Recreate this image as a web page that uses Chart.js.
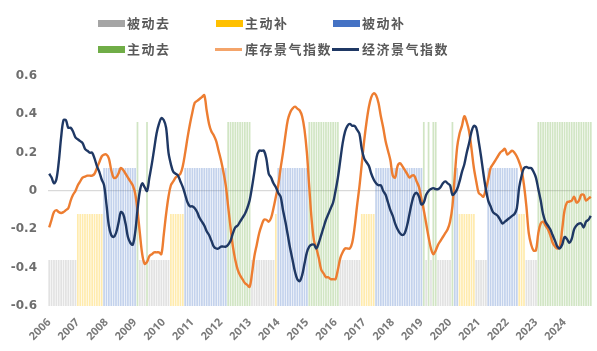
<!DOCTYPE html>
<html>
<head>
<meta charset="utf-8">
<script src="https://cdn.jsdelivr.net/npm/chart.js@4.4.1/dist/chart.umd.min.js"></script>
<style>
  html, body { margin: 0; padding: 0; background: #fff; }
  #wrap { position: relative; width: 597px; height: 351px; overflow: hidden; }
  canvas { position: absolute; left: 0; top: 0; }
  .lg-sw { position: absolute; }
  .lg-tx { position: absolute; font-family: "Noto Sans CJK SC", "Noto Sans", sans-serif; font-size: 13px; font-weight: 700; color: #595959; letter-spacing: 1.5px; line-height: 16px; white-space: nowrap; }
</style>
</head>
<body>
<div id="wrap">
  <canvas id="c" width="597" height="351"></canvas>
  <div id="legend"></div>
</div>
<script>
// ---------------- DATA ----------------
const years = ['2006','2007','2008','2009','2010','2011','2012','2013','2014','2015',
               '2016','2017','2018','2019','2020','2021','2022','2023','2024'];

// 库存景气指数 (monthly)
const inventoryIndex = [
  -0.19,-0.15,-0.11,-0.10,-0.11,-0.115,-0.11,-0.10,-0.09,-0.05,-0.02,0.00,
  0.03,0.05,0.07,0.075,0.08,0.08,0.08,0.09,0.12,0.15,0.18,0.19,
  0.19,0.17,0.11,0.07,0.07,0.09,0.12,0.11,0.09,0.07,0.05,0.03,
  -0.01,-0.10,-0.22,-0.33,-0.38,-0.37,-0.34,-0.33,-0.32,-0.32,-0.32,-0.33,
  -0.23,-0.12,-0.03,0.03,0.05,0.07,0.08,0.09,0.13,0.20,0.28,0.35,
  0.41,0.46,0.47,0.48,0.49,0.50,0.42,0.35,0.31,0.29,0.26,0.21,
  0.16,0.10,0.03,-0.08,-0.19,-0.29,-0.36,-0.41,-0.44,-0.46,-0.48,-0.49,
  -0.50,-0.43,-0.34,-0.28,-0.22,-0.18,-0.15,-0.15,-0.16,-0.14,-0.09,-0.03,
  0.03,0.12,0.20,0.29,0.37,0.41,0.43,0.44,0.43,0.42,0.39,0.32,
  0.20,0.02,-0.15,-0.26,-0.30,-0.35,-0.41,-0.43,-0.45,-0.45,-0.46,-0.46,
  -0.46,-0.41,-0.35,-0.32,-0.30,-0.30,-0.30,-0.27,-0.19,-0.08,0.02,0.14,
  0.26,0.36,0.44,0.49,0.51,0.50,0.46,0.39,0.33,0.26,0.21,0.16,
  0.08,0.07,0.13,0.145,0.13,0.11,0.09,0.07,0.08,0.08,0.05,0.02,
  -0.04,-0.10,-0.17,-0.24,-0.30,-0.33,-0.31,-0.28,-0.26,-0.24,-0.22,-0.20,
  -0.16,-0.08,0.08,0.23,0.30,0.34,0.39,0.36,0.31,0.22,0.12,0.05,
  -0.01,-0.02,-0.03,0.01,0.06,0.12,0.14,0.16,0.18,0.20,0.21,0.22,
  0.19,0.20,0.21,0.20,0.18,0.15,0.11,0.03,-0.08,-0.22,-0.28,-0.31,
  -0.31,-0.22,-0.17,-0.16,-0.18,-0.20,-0.23,-0.27,-0.29,-0.30,-0.29,-0.20,
  -0.10,-0.06,-0.055,-0.05,-0.03,-0.06,-0.05,-0.02,-0.02,-0.05,-0.04,-0.03
];

// 经济景气指数 (monthly)
const economyIndex = [
  0.09,0.07,0.04,0.06,0.15,0.28,0.37,0.37,0.33,0.33,0.31,0.28,
  0.27,0.26,0.25,0.22,0.21,0.20,0.20,0.17,0.13,0.10,0.06,0.03,
  -0.07,-0.18,-0.23,-0.24,-0.22,-0.17,-0.11,-0.12,-0.17,-0.24,-0.27,-0.28,
  -0.22,-0.10,0.00,0.04,0.02,0.00,0.07,0.14,0.22,0.30,0.35,0.38,
  0.37,0.33,0.20,0.14,0.10,0.09,0.08,0.05,0.02,-0.02,-0.06,-0.08,
  -0.08,-0.09,-0.11,-0.14,-0.16,-0.18,-0.21,-0.23,-0.26,-0.29,-0.30,-0.30,
  -0.29,-0.29,-0.29,-0.28,-0.26,-0.22,-0.19,-0.18,-0.16,-0.14,-0.12,-0.09,
  -0.05,0.02,0.10,0.18,0.21,0.21,0.21,0.17,0.09,0.07,0.04,0.02,
  -0.01,-0.03,-0.10,-0.16,-0.23,-0.30,-0.36,-0.42,-0.46,-0.47,-0.44,-0.38,
  -0.32,-0.29,-0.28,-0.28,-0.30,-0.27,-0.23,-0.19,-0.15,-0.12,-0.09,-0.06,
  0.00,0.07,0.16,0.25,0.31,0.34,0.35,0.34,0.34,0.32,0.30,0.22,
  0.17,0.15,0.13,0.09,0.06,0.04,0.03,0.03,0.00,-0.02,-0.06,-0.10,
  -0.13,-0.17,-0.20,-0.22,-0.23,-0.22,-0.18,-0.12,-0.06,-0.02,-0.01,-0.03,
  -0.07,-0.06,-0.02,0.00,0.01,0.015,0.01,0.01,0.02,0.04,0.05,0.04,
  0.03,-0.02,-0.01,0.01,0.05,0.10,0.14,0.20,0.25,0.31,0.34,0.33,
  0.26,0.18,0.09,0.01,-0.05,-0.08,-0.11,-0.12,-0.13,-0.15,-0.17,-0.16,
  -0.15,-0.14,-0.13,-0.12,-0.09,0.02,0.08,0.12,0.125,0.12,0.12,0.10,
  0.07,0.01,-0.05,-0.12,-0.16,-0.18,-0.20,-0.23,-0.26,-0.29,-0.30,-0.28,
  -0.24,-0.25,-0.27,-0.25,-0.20,-0.18,-0.17,-0.17,-0.19,-0.16,-0.15,-0.13
];

// Inventory-cycle phase per month, one string per year:
// D = 被动去, R = 主动补, B = 被动补, A = 主动去
const phaseByYear = [
  'DDDDDDDDDDDD', 'RRRRRRRRRRRB', 'BBBBBBBBBBBB', 'BADDDADDDDDD',
  'DDDRRRRRRBBB', 'BBBBBBBBBBBB', 'BBBAAAAAAAAA', 'ADDDDDDDDDDR',
  'BBBBBBBBBBBB', 'BAAAAAAAAAAA', 'AADDDDDDDDDR', 'RRRRRBBBBBBB',
  'BBBBBBBBBBBB', 'BADADAADDDDD', 'DABBRRRRRRRD', 'DDDDBBBBBBBB',
  'BBBBBRRRDDDD', 'DAAAAAAAAAAA', 'AAAAAAAAAAAA'
];
const phaseCodes  = ['D', 'R', 'B', 'A'];
const phaseLabels = ['被动去', '主动补', '被动补', '主动去'];
const phaseTops   = [-0.36, -0.12, 0.12, 0.36];
const seriesLabels = ['库存景气指数', '经济景气指数'];
const yTicks = [-0.6, -0.4, -0.2, 0, 0.2, 0.4, 0.6];

// ---------------- BUILD ----------------
const categories = [];
years.forEach(y => { for (let i = 1; i <= 12; i++) categories.push(y + '-' + String(i).padStart(2, '0')); });
const phase = phaseByYear.join('').split('');
const yMin = yTicks[0], yMax = yTicks[yTicks.length - 1];

const phaseColors = ['rgba(165,165,165,0.32)', 'rgba(255,192,0,0.32)', 'rgba(68,114,196,0.32)', 'rgba(112,173,71,0.32)'];
const phaseSolid  = ['#a5a5a5', '#ffc000', '#4472c4', '#70ad47'];
const lineColors  = ['#ED7D31', '#1F3864'];

const datasets = [];
phaseCodes.forEach((code, k) => {
  datasets.push({
    type: 'bar',
    label: phaseLabels[k],
    data: phase.map(p => p === code ? [yMin, phaseTops[k]] : null),
    backgroundColor: phaseColors[k],
    borderWidth: 0,
    grouped: false,
    barPercentage: 0.72,
    categoryPercentage: 1.0,
    order: 3
  });
});
datasets.push({
  type: 'line', label: seriesLabels[0], data: inventoryIndex,
  borderColor: lineColors[0], borderWidth: 2.4, pointRadius: 0, tension: 0.35, order: 2
});
datasets.push({
  type: 'line', label: seriesLabels[1], data: economyIndex,
  borderColor: lineColors[1], borderWidth: 2.4, pointRadius: 0, tension: 0.35, order: 1
});

new Chart(document.getElementById('c'), {
  type: 'bar',
  data: { labels: categories, datasets },
  options: {
    responsive: false,
    animation: false,
    layout: { padding: { top: 76, right: 5, left: 0, bottom: 0 } },
    plugins: { legend: { display: false }, tooltip: { enabled: false } },
    scales: {
      x: {
        grid: { display: false },
        border: { display: false },
        ticks: {
          autoSkip: false,
          maxRotation: 45, minRotation: 45,
          padding: 2,
          color: '#7a7a7a',
          font: { family: 'Noto Sans', size: 11, weight: 'bold' },
          callback: (v, i) => (i % 12 === 0 ? categories[i].slice(0, 4) : '')
        },
        afterFit: s => { s.height = 45; s.paddingLeft = 0; s.paddingRight = 0; }
      },
      y: {
        min: yMin, max: yMax,
        afterBuildTicks: s => { s.ticks = yTicks.map(v => ({ value: v })); },
        grid: {
          drawTicks: false,
          color: c => (c.tick && Math.abs(c.tick.value) < 1e-9 ? '#d9d9d9' : 'rgba(0,0,0,0)'),
          lineWidth: 1.2
        },
        border: { display: false },
        ticks: {
          padding: 11,
          color: '#6e6e6e',
          font: { family: 'DejaVu Sans', size: 12, weight: 'bold' },
          callback: v => (Math.abs(v) < 1e-9 ? '0' : Number(v).toFixed(1))
        },
        afterFit: s => { s.width = 48; }
      }
    }
  }
});

// ---------------- LEGEND (HTML text) ----------------
const legendItems = [
  { text: phaseLabels[0], color: phaseSolid[0], kind: 'box',  sx: 98,  tx: 127, cy: 23 },
  { text: phaseLabels[1], color: phaseSolid[1], kind: 'box',  sx: 216, tx: 245, cy: 23 },
  { text: phaseLabels[2], color: phaseSolid[2], kind: 'box',  sx: 333, tx: 362, cy: 23 },
  { text: phaseLabels[3], color: phaseSolid[3], kind: 'box',  sx: 98,  tx: 127, cy: 49 },
  { text: seriesLabels[0], color: '#F4A46A',    kind: 'line', sx: 215, tx: 245, cy: 49 },
  { text: seriesLabels[1], color: lineColors[1], kind: 'line', sx: 332, tx: 362, cy: 49 }
];
const lg = document.getElementById('legend');
legendItems.forEach(it => {
  const sw = document.createElement('div');
  sw.className = 'lg-sw';
  const h = it.kind === 'box' ? 7 : 3;
  sw.style.left = it.sx + 'px';
  sw.style.top = (it.cy - h / 2) + 'px';
  sw.style.width = '27px';
  sw.style.height = h + 'px';
  sw.style.background = it.color;
  lg.appendChild(sw);
  const tx = document.createElement('div');
  tx.className = 'lg-tx';
  tx.textContent = it.text;
  tx.style.left = it.tx + 'px';
  tx.style.top = (it.cy - 8) + 'px';
  lg.appendChild(tx);
});
</script>
</body>
</html>
